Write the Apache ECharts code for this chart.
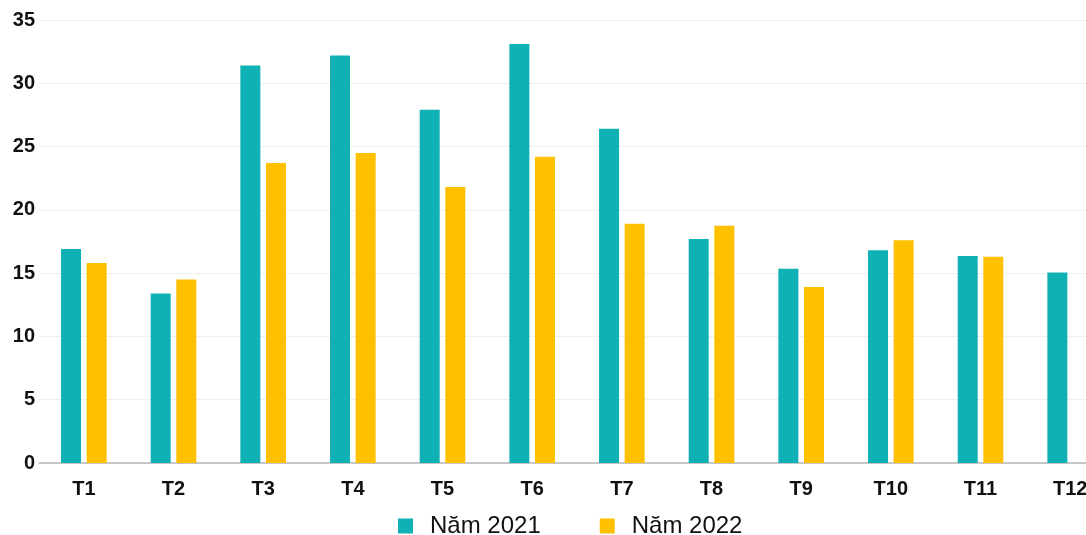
<!DOCTYPE html>
<html>
<head>
<meta charset="utf-8">
<script src="https://cdn.jsdelivr.net/npm/echarts@6/dist/echarts.min.js"></script>
<style>html,body{margin:0;padding:0;background:#fff;overflow:hidden;width:1086px;height:535px;}#c{width:1115px;height:535px;}</style>
</head>
<body>
<div id="c"></div>
<script>
const categories = ['T1','T2','T3','T4','T5','T6','T7','T8','T9','T10','T11','T12'];
const seriesNames = ['Năm 2021','Năm 2022'];
const values2021 = [16.9, 13.4, 31.4, 32.2, 27.9, 33.1, 26.4, 17.7, 15.35, 16.8, 16.35, 15.05];
const values2022 = [15.8, 14.5, 23.7, 24.5, 21.8, 24.2, 18.9, 18.75, 13.9, 17.6, 16.3, null];
const yTicks = [0, 5, 10, 15, 20, 25, 30, 35];

const chart = echarts.init(document.getElementById('c'), null, {renderer: 'canvas'});
const font = '"Liberation Sans", Arial, Helvetica, sans-serif';
chart.setOption({
  animation: false,
  backgroundColor: '#ffffff',
  grid: {left: 39, right: 0, top: 20, bottom: 72, containLabel: false},
  legend: {
    data: seriesNames,
    top: 509,
    left: 393,
    itemWidth: 15,
    itemHeight: 15,
    itemGap: 59,
    icon: 'rect',
    textStyle: {fontFamily: font, fontSize: 24, color: '#111', padding: [0, 0, 0, 12]}
  },
  xAxis: {
    type: 'category',
    data: categories,
    axisTick: {show: false},
    axisLine: {lineStyle: {color: '#b8b8b8', width: 1.5}},
    axisLabel: {fontFamily: font, fontSize: 20, fontWeight: 'bold', color: '#111', margin: 16}
  },
  yAxis: {
    type: 'value',
    min: yTicks[0],
    max: yTicks[yTicks.length - 1],
    interval: 5,
    axisLine: {show: false},
    axisTick: {show: false},
    splitLine: {lineStyle: {color: '#efefef', width: 1}},
    axisLabel: {fontFamily: font, fontSize: 20, fontWeight: 'bold', color: '#111', margin: 4}
  },
  series: [
    {name: seriesNames[0], type: 'bar', data: values2021, barWidth: 20, barGap: '28%',
     itemStyle: {color: '#10b1b4'}},
    {name: seriesNames[1], type: 'bar', data: values2022, barWidth: 20,
     itemStyle: {color: '#ffc000'}}
  ]
});
</script>
</body>
</html>
